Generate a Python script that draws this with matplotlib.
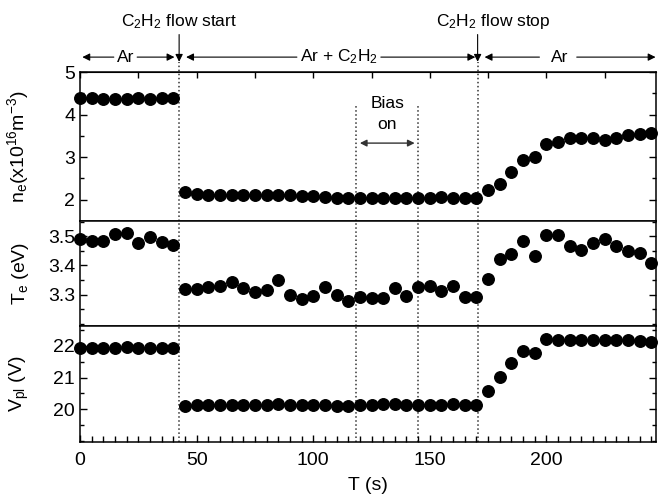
import numpy as np
import matplotlib
matplotlib.use('Agg')
import matplotlib.pyplot as plt
from matplotlib.ticker import MultipleLocator

plt.rcParams['font.family'] = 'Liberation Sans'
plt.rcParams['mathtext.fontset'] = 'custom'
plt.rcParams['mathtext.rm'] = 'Liberation Sans'
plt.rcParams['mathtext.it'] = 'Liberation Sans:italic'
plt.rcParams['mathtext.default'] = 'regular'

# time axis (s), one point every 5 s
t = np.arange(0, 250, 5)

# electron density (x10^16 m^-3)
ne = [4.38, 4.38, 4.37, 4.36, 4.37, 4.39, 4.37, 4.38, 4.39,
      2.18, 2.13, 2.12, 2.12, 2.12, 2.12, 2.11, 2.11, 2.10, 2.10, 2.09, 2.09, 2.07,
      2.05, 2.05, 2.04, 2.05, 2.04, 2.03, 2.04, 2.04, 2.05, 2.06, 2.05, 2.04, 2.04,
      2.23, 2.37, 2.66, 2.93, 3.01, 3.32, 3.36, 3.44, 3.44, 3.44, 3.40, 3.46,
      3.53, 3.55, 3.57]

# electron temperature (eV)
te = [3.490, 3.484, 3.484, 3.509, 3.510, 3.478, 3.497, 3.481, 3.470,
      3.320, 3.320, 3.327, 3.329, 3.344, 3.323, 3.309, 3.315, 3.350, 3.300, 3.286,
      3.294, 3.327,
      3.300, 3.277, 3.291, 3.289, 3.289, 3.323, 3.294, 3.325, 3.329, 3.311, 3.329,
      3.291, 3.291,
      3.352, 3.421, 3.440, 3.482, 3.434, 3.503, 3.503, 3.467, 3.453, 3.476, 3.490,
      3.467, 3.450, 3.444, 3.407]

# plasma potential (V)
vpl = [21.92, 21.92, 21.93, 21.94, 21.95, 21.94, 21.94, 21.94, 21.92,
       20.09, 20.12, 20.12, 20.12, 20.13, 20.12, 20.12, 20.13, 20.17, 20.13, 20.12,
       20.13, 20.14,
       20.09, 20.09, 20.15, 20.13, 20.16, 20.17, 20.14, 20.13, 20.14, 20.13, 20.16,
       20.13, 20.14,
       20.59, 21.03, 21.45, 21.82, 21.77, 22.21, 22.18, 22.18, 22.17, 22.18, 22.17,
       22.18, 22.17, 22.16, 22.12]

flow_start = 42.5
flow_stop = 170.5
bias_on = [118.5, 145]

fig = plt.figure(figsize=(6.58, 4.98), dpi=100)
left, width = 0.1216, 0.8754
ax1 = fig.add_axes([left, 0.5562, width, 0.2992])
ax2 = fig.add_axes([left, 0.3454, width, 0.2108], sharex=ax1)
ax3 = fig.add_axes([left, 0.1124, width, 0.2329], sharex=ax1)

ms = 8.3
ax1.plot(t, ne, 'o', color='k', ms=ms, clip_on=False, zorder=3)
ax2.plot(t, te, 'o', color='k', ms=ms, clip_on=False, zorder=3)
ax3.plot(t, vpl, 'o', color='k', ms=ms, clip_on=False, zorder=3)

ax1.set_xlim(0, 247)
ax1.set_ylim(1.5, 5)
ax2.set_ylim(3.193, 3.552)
ax3.set_ylim(18.97, 22.62)

ax1.set_yticks([2, 3, 4, 5])
ax1.yaxis.set_minor_locator(MultipleLocator(0.5))
ax2.set_yticks([3.3, 3.4, 3.5])
ax2.yaxis.set_minor_locator(MultipleLocator(0.05))
ax3.set_yticks([20, 21, 22])
ax3.yaxis.set_minor_locator(MultipleLocator(0.5))
ax3.set_xticks([0, 50, 100, 150, 200])
ax3.xaxis.set_minor_locator(MultipleLocator(5))

for ax in (ax1, ax2, ax3):
    ax.tick_params(which='both', direction='in', left=True, right=True,
                   top=False, bottom=False, labelsize=14, width=1)
    ax.tick_params(which='major', length=5)
    ax.tick_params(which='minor', length=3)
    for s in ax.spines.values():
        s.set_linewidth(1.1)
    ax.yaxis.set_label_coords(-0.085, 0.5)

ax1.tick_params(axis='x', labelbottom=False)
ax2.tick_params(axis='x', labelbottom=False)
ax3.tick_params(axis='x', which='both', bottom=True, pad=7)
ax3.tick_params(axis='x', which='minor', length=4)

# ticks along the top of the upper panel every 25 s
top = ax1.secondary_xaxis('top')
top.set_xticks(np.arange(0, 250, 25))
top.tick_params(direction='in', length=4, labeltop=False, width=1)

ax1.set_ylabel(r'n$_e$(x10$^{16}$m$^{-3}$)', fontsize=14)
ax2.set_ylabel(r'T$_e$ (eV)', fontsize=14)
ax3.set_ylabel(r'V$_{pl}$ (V)', fontsize=14)
ax3.set_xlabel('T (s)', fontsize=14, labelpad=6)

# dotted markers
dot = dict(color='#333333', ls=':', lw=1.1, zorder=1)
for x in (flow_start, flow_stop):
    ax1.plot([x, x], [1.5, 5.24], clip_on=False, **dot)
    ax2.axvline(x, **dot)
    ax3.axvline(x, **dot)
for x in bias_on:
    ax1.plot([x, x], [1.5, 4.22], **dot)
    ax2.axvline(x, **dot)
    ax3.axvline(x, **dot)

# annotations above the plot
arr = dict(arrowstyle='-|>', color='k', lw=0.8, mutation_scale=11,
           shrinkA=0, shrinkB=0)
ya = 5.35
fs = 12.5
for x in (flow_start, flow_stop):
    ax1.annotate('', xy=(x, 5.24), xytext=(x, 5.88), arrowprops=arr,
                 annotation_clip=False)
ax1.text(flow_start, 6.18, 'C$_2$H$_2$ flow start', ha='center', va='center',
         fontsize=fs, clip_on=False)
ax1.text(177, 6.18, 'C$_2$H$_2$ flow stop', ha='center', va='center',
         fontsize=fs, clip_on=False)

segments = [(14.5, 1.0), (24.5, 40.5), (93, 45.5), (129, 169.5),
            (197, 173.5), (213, 246.8)]
for x0, x1 in segments:
    ax1.annotate('', xy=(x1, ya), xytext=(x0, ya), arrowprops=arr,
                 annotation_clip=False)
ax1.text(19.5, ya, 'Ar', ha='center', va='center', fontsize=fs, clip_on=False)
ax1.text(111, ya, 'Ar + C$_2$H$_2$', ha='center', va='center', fontsize=fs,
         clip_on=False)
ax1.text(205.5, ya, 'Ar', ha='center', va='center', fontsize=fs, clip_on=False)

# bias on
ax1.text(131.8, 4.27, 'Bias', ha='center', va='center', fontsize=fs)
ax1.text(131.8, 3.77, 'on', ha='center', va='center', fontsize=fs)
ax1.annotate('', xy=(120, 3.33), xytext=(143.5, 3.33),
             arrowprops=dict(arrowstyle='<|-|>', color='#333333', lw=1,
                             mutation_scale=10, shrinkA=0, shrinkB=0))

fig.savefig('out.png', dpi=100)
